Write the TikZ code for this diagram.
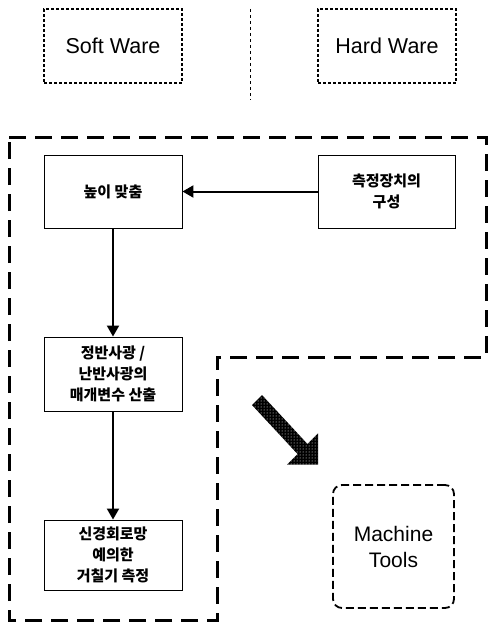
\documentclass[tikz,border=0pt]{standalone}
\usepackage{fontspec}
\setmainfont{Liberation Sans}
\newfontfamily\kr{Noto Sans CJK KR}
\usetikzlibrary{arrows.meta,patterns}
\begin{document}
\begin{tikzpicture}[x=1pt,y=-1pt,
  swbox/.style={draw, line width=1.1pt, dash pattern=on 3pt off 2pt, minimum width=138pt, minimum height=74pt, inner sep=0pt, font=\fontsize{21.5}{25}\selectfont},
  stepbox/.style={draw, line width=0.9pt, minimum width=138pt, inner sep=0pt, align=center, font=\kr\bfseries\fontsize{15}{21}\selectfont},
  mtbox/.style={draw, line width=1.8pt, dash pattern=on 8pt off 4pt, rounded corners=9pt, minimum width=121pt, minimum height=123pt, inner sep=0pt, align=center, font=\fontsize{21}{26}\selectfont},
  flow/.style={line width=2pt, -{Triangle[length=11pt,width=12pt]}},
  region/.style={line width=3pt, dash pattern=on 17pt off 9pt}
]
\useasboundingbox (0,0) rectangle (488,626);
\fill[white] (0,0) rectangle (488,626);

\node[swbox] (soft) at (113,46) {Soft Ware};
\node[swbox] (hard) at (387,46) {Hard Ware};
\coordinate (vt) at (250,9);
\coordinate (vb) at (250,100);
\draw[line width=1pt, dash pattern=on 3pt off 3pt] (vt) -- (vb);

\draw[region] (9,137) -- (486,137) -- (486,357) -- (217,357) -- (217,620) -- (9,620) -- cycle;

\node[stepbox, minimum height=73pt] (b1) at (113,191.5) {높이 맞춤};
\node[stepbox, minimum width=137pt, minimum height=73pt] (meas) at (386.5,191.5) {측정장치의\\구성};
\node[stepbox, minimum height=74pt] (b2) at (113,374) {정반사광 /\\난반사광의\\매개변수 산출};
\node[stepbox, minimum height=70pt] (b3) at (113,555) {신경회로망\\예의한\\거칠기 측정};

\draw[flow] (meas.west) -- (b1.east);
\draw[flow] (b1.south) -- (b2.north);
\draw[flow] (b2.south) -- (b3.north);

\node[mtbox] (mt) at (393.5,546.5) {Machine\\Tools};

\path[fill=black] (262,395) -- (307.5,444) -- (318,433.4) -- (318,464.6) -- (287,464.6) -- (297.5,454) -- (252,405) -- cycle;
\path[pattern=dots, pattern color=white] (262,395) -- (307.5,444) -- (318,433.4) -- (318,464.6) -- (287,464.6) -- (297.5,454) -- (252,405) -- cycle;
\end{tikzpicture}
\end{document}
